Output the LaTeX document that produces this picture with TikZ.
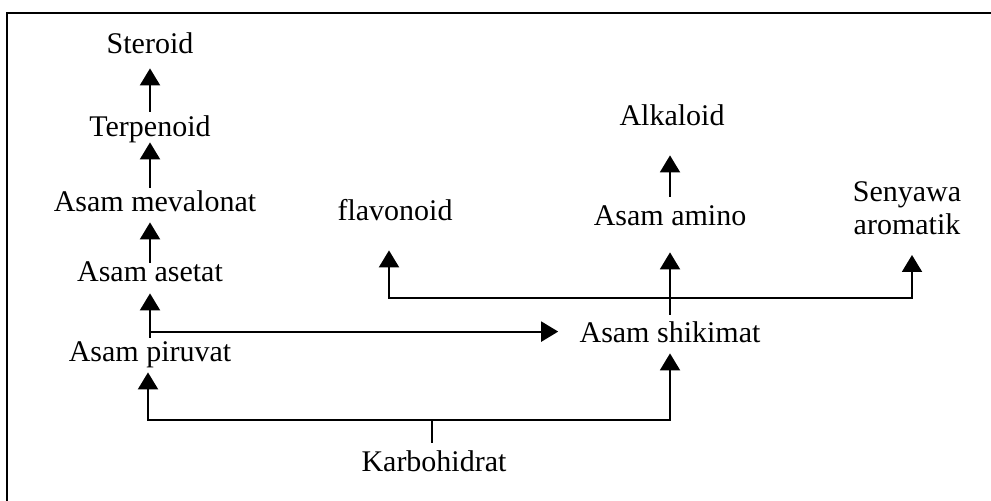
\documentclass[tikz,border=0pt]{standalone}
\usepackage{fontspec}
\setmainfont{Liberation Serif}
\usetikzlibrary{arrows.meta,calc}
\begin{document}
\begin{tikzpicture}[x=0.5pt,y=-0.5pt,
  lbl/.style={font=\fontsize{15}{16.5}\selectfont, inner sep=0pt, text height=10.5pt, text depth=3.3pt, anchor=base},
  lbl2/.style={font=\fontsize{15}{16.5}\selectfont, inner sep=0pt, align=center},
  arr/.style={line width=1pt, -{Triangle[width=10pt,length=8.5pt]}},
  ln/.style={line width=1pt},
  frame/.style={line width=1.3pt}]
\useasboundingbox (0,0) rectangle (991,501);
\draw[frame] (7,505) -- (7,13) -- (995,13);
% nodes
\node[lbl] (ster) at (150,54) {Steroid};
\node[lbl] (terp) at (150,137) {Terpenoid};
\node[lbl] (mev) at (155,212) {Asam mevalonat};
\node[lbl] (aset) at (150,282) {Asam asetat};
\node[lbl] (piru) at (150,362) {Asam piruvat};
\node[lbl] (karbo) at (434,472) {Karbohidrat};
\node[lbl] (shik) at (670,343) {Asam shikimat};
\node[lbl] (amino) at (670,226) {Asam amino};
\node[lbl] (alk) at (672,126) {Alkaloid};
\node[lbl] (flav) at (395,221) {flavonoid};
\node[lbl2, anchor=south] (seny) at (907,235) {Senyawa\\aromatik};
% left column
\draw[arr] ($(terp.north)+(0,-4)$) -- ($(ster.south)+(0,7.4)$);
\draw[arr] ($(terp.south |- mev.north)+(0,-3)$) -- ($(terp.south)+(0,-1.6)$);
\draw[arr] ($(aset.north)+(0,2)$) -- ($(aset.north |- mev.south)+(0,3.4)$);
\draw[arr] ($(piru.north)+(0,-3)$) -- ($(aset.south)+(0,4.4)$);
% piruvat/asetat to shikimat
\draw[arr] ($(piru.north)+(0,-9)$) -- ($(piru.north -| shik.west)+(-21,-9)$);
% karbohidrat
\coordinate (kj) at ($(karbo.north)+(-2,-31)$);
\draw[ln] ($(karbo.north)+(-2,-8)$) -- (kj);
\draw[arr] (kj) -| ($(piru.south)+(-2,3.4)$);
\draw[arr] (kj) -| ($(shik.south)+(0,3.4)$);
% shikimat branches
\draw[arr] ($(shik.north)+(0,-7)$) -- ($(amino.south)+(0,19.4)$);
\coordinate (sj) at ($(shik.north)+(0,-24)$);
\draw[arr] (sj) -| ($(flav.south)+(-6,22.4)$);
\draw[arr] (sj) -| ($(seny.south)+(5,20)$);
\draw[arr] ($(amino.north)+(0,-8)$) -- ($(amino.north |- alk.south)+(0,22.4)$);
\end{tikzpicture}
\end{document}
